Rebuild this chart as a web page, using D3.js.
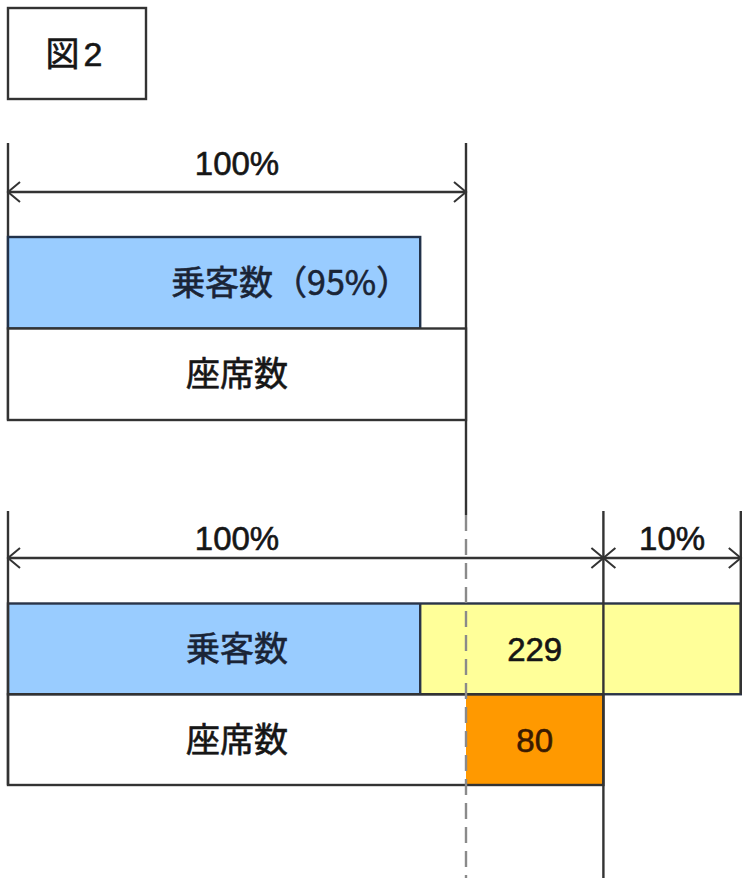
<!DOCTYPE html>
<html><head><meta charset="utf-8">
<script src="https://cdn.jsdelivr.net/npm/d3@7"></script>
<style>html,body{margin:0;padding:0;background:#fff;}</style>
</head><body>
<script>
// ---- data ----
const title = ["図", "2"];
const rowNames = ["乗客数", "座席数"];
const topLabels = ["乗客数（95%）", "座席数"];
const topValues = [90, 100];
const bottomLabels = ["乗客数", "座席数"];
const bottomBase = [90, 100];
const bottomExtra = [70, 30];
const bottomExtraLabels = ["229", "80"];
const topSpans = [[0, 100]];
const topSpanLabels = ["100%"];
const bottomSpans = [[0, 130], [130, 160]];
const bottomSpanLabels = ["100%", "10%"];

// ---- setup ----
const W = 756, H = 896;
const svg = d3.select("body").append("svg").attr("width", W).attr("height", H)
  .style("font-family", "'Liberation Sans','Noto Sans CJK JP',sans-serif");
const x = d3.scaleLinear().domain([0, 100]).range([8, 466]);
const lineCol = "#333333";
const textCol = "#161616";
const sw = 2.4;
const fills = { blue: "#99CCFF", yellow: "#FFFF99", orange: "#FF9900", white: "#FFFFFF" };
const CJK = "'Noto Sans CJK JP',sans-serif";

function heavy(t, col) { return t.attr("stroke", col).attr("stroke-width", 0.6).attr("paint-order", "stroke"); }

// title box
svg.append("rect").attr("x", 8).attr("y", 8).attr("width", 138).attr("height", 91)
  .attr("fill", "#fff").attr("stroke", lineCol).attr("stroke-width", sw);
const tt = svg.append("text").attr("x", 74).attr("y", 66).attr("text-anchor", "middle")
  .attr("font-size", 34).attr("fill", textCol);
tt.append("tspan").attr("font-family", CJK).text(title[0]);
tt.append("tspan").attr("dx", 4).text(title[1]);
heavy(tt, textCol);

function arrowHead(g, tx, y, dir) {
  g.append("path").attr("d", `M${tx - dir * 12},${y - 10}L${tx},${y}L${tx - dir * 12},${y + 10}`)
    .attr("fill", "none").attr("stroke", lineCol).attr("stroke-width", 2);
}
function spans(g, data, labels, y, labelY) {
  data.forEach((s, i) => {
    g.append("line").attr("x1", x(s[0])).attr("x2", x(s[1])).attr("y1", y).attr("y2", y)
      .attr("stroke", lineCol).attr("stroke-width", sw);
    arrowHead(g, x(s[0]), y, -1);
    arrowHead(g, x(s[1]), y, 1);
    const lx = s[0] === 0 ? x(50) : x((s[0] + s[1]) / 2);
    heavy(g.append("text").attr("x", lx).attr("y", labelY).attr("text-anchor", "middle")
      .attr("font-size", 33).attr("fill", textCol).text(labels[i]), textCol);
  });
}
function vline(g, v, y1, y2, dashed) {
  g.append("line").attr("x1", x(v)).attr("x2", x(v)).attr("y1", y1).attr("y2", y2)
    .attr("stroke", dashed ? "#8a8a8a" : lineCol).attr("stroke-width", sw)
    .attr("stroke-dasharray", dashed ? "16,8" : null);
}

// ---- top panel ----
const gTop = svg.append("g");
const yTop = d3.scaleBand().domain(rowNames).range([237, 420]);
vline(gTop, 0, 143, 420);
vline(gTop, 100, 143, 515);
spans(gTop, topSpans, topSpanLabels, 192, 175);
rowNames.forEach((r, i) => {
  gTop.append("rect").attr("x", x(0)).attr("y", yTop(r)).attr("width", x(topValues[i]) - x(0))
    .attr("height", yTop.bandwidth())
    .attr("fill", i === 0 ? fills.blue : fills.white)
    .attr("stroke", i === 0 ? "#22324a" : lineCol).attr("stroke-width", sw);
});
heavy(gTop.append("text").attr("x", x(topValues[0]) - 10).attr("y", yTop(rowNames[0]) + yTop.bandwidth() / 2 + 12)
  .attr("text-anchor", "end").attr("font-size", 34).attr("fill", "#1a2436")
  .attr("font-family", CJK).text(topLabels[0]), "#1a2436");
heavy(gTop.append("text").attr("x", x(50)).attr("y", yTop(rowNames[1]) + yTop.bandwidth() / 2 + 12)
  .attr("text-anchor", "middle").attr("font-size", 34).attr("fill", textCol)
  .attr("font-family", CJK).text(topLabels[1]), textCol);

// ---- bottom panel ----
const gBot = svg.append("g");
const yBot = d3.scaleBand().domain(rowNames).range([603.5, 785]);
const r0 = rowNames[0], r1 = rowNames[1];
gBot.append("rect").attr("x", x(0)).attr("y", yBot(r0)).attr("width", x(bottomBase[0]) - x(0))
  .attr("height", yBot.bandwidth()).attr("fill", fills.blue);
gBot.append("rect").attr("x", x(bottomBase[0])).attr("y", yBot(r0))
  .attr("width", x(bottomBase[0] + bottomExtra[0]) - x(bottomBase[0]))
  .attr("height", yBot.bandwidth()).attr("fill", fills.yellow);
gBot.append("rect").attr("x", x(0)).attr("y", yBot(r1)).attr("width", x(bottomBase[1]) - x(0))
  .attr("height", yBot.bandwidth()).attr("fill", fills.white);
gBot.append("rect").attr("x", x(bottomBase[1])).attr("y", yBot(r1))
  .attr("width", x(bottomBase[1] + bottomExtra[1]) - x(bottomBase[1]))
  .attr("height", yBot.bandwidth()).attr("fill", fills.orange);
rowNames.forEach((r, i) => {
  gBot.append("rect").attr("x", x(0)).attr("y", yBot(r))
    .attr("width", x(bottomBase[i] + bottomExtra[i]) - x(0)).attr("height", yBot.bandwidth())
    .attr("fill", "none").attr("stroke", i === 0 ? "#2a3448" : lineCol).attr("stroke-width", sw);
});
gBot.append("line").attr("x1", x(bottomBase[0])).attr("x2", x(bottomBase[0]))
  .attr("y1", yBot(r0)).attr("y2", yBot(r0) + yBot.bandwidth())
  .attr("stroke", "#2a3448").attr("stroke-width", sw);
vline(gBot, 0, 511, 785);
vline(gBot, 100, 515, 878, true);
vline(gBot, 130, 511, 878);
vline(gBot, 160, 511, 694);
spans(gBot, bottomSpans, bottomSpanLabels, 558, 550);
rowNames.forEach((r, i) => {
  const c1 = i === 0 ? "#1a2436" : textCol;
  heavy(gBot.append("text").attr("x", x(50)).attr("y", yBot(r) + yBot.bandwidth() / 2 + 12)
    .attr("text-anchor", "middle").attr("font-size", 34).attr("fill", c1)
    .attr("font-family", CJK).text(bottomLabels[i]), c1);
  const c2 = i === 0 ? textCol : "#3a1a00";
  heavy(gBot.append("text").attr("x", x(bottomBase[1] + bottomExtra[1] / 2)).attr("y", yBot(r) + yBot.bandwidth() / 2 + 12)
    .attr("text-anchor", "middle").attr("font-size", 33).attr("fill", c2)
    .text(bottomExtraLabels[i]), c2);
});
</script>
</body></html>
